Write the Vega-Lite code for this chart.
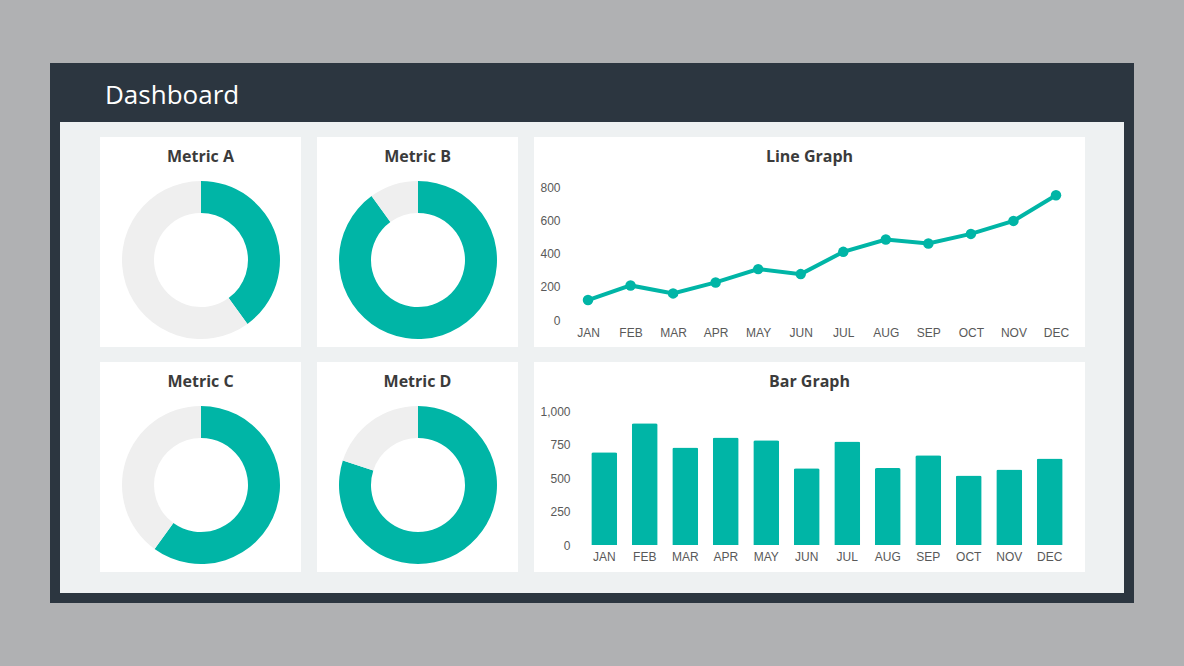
{
  "$schema": "https://vega.github.io/schema/vega-lite/v6.json",
  "background": "#b0b1b3",
  "padding": {"left": 50, "top": 63, "right": 50, "bottom": 63},
  "config": {
    "view": {"stroke": null},
    "concat": {"spacing": 0},
    "axis": {"labelFont": "Liberation Sans", "labelFontSize": 12, "labelColor": "#595959", "grid": false, "domain": false, "ticks": false, "title": null},
    "title": {"font": "Open Sans", "fontSize": 16, "fontWeight": "bold", "color": "#3b3b3b", "anchor": "middle", "frame": "group", "offset": -28, "baseline": "alphabetic"}
  },
  "vconcat": [
    {
      "width": 1084, "height": 59,
      "view": {"fill": "#2c3640", "stroke": null},
      "title": {"text": "Dashboard", "anchor": "start", "dx": 55, "offset": -46, "fontSize": 26, "fontWeight": "normal", "color": "#ffffff"},
      "data": {"values": []},
      "mark": "point",
      "encoding": {}
    },
    {
      "hconcat": [
        {"width": 10, "height": 471, "view": {"fill": "#2c3640", "stroke": null}, "data": {"values": []}, "mark": "point", "encoding": {}},
        {
          "vconcat": [
            {"width": 1064, "height": 15, "view": {"fill": "#eef1f2", "stroke": null}, "data": {"values": []}, "mark": "point", "encoding": {}},
            {
              "hconcat": [
                {"width": 40, "height": 210, "view": {"fill": "#eef1f2", "stroke": null}, "data": {"values": []}, "mark": "point", "encoding": {}},
                {
                  "width": 201, "height": 210,
                  "view": {"fill": "#ffffff", "stroke": null},
                  "title": {"text": "Metric A"},
                  "data": {"values": [{"part": "value", "pct": 40, "ord": 1}, {"part": "rest", "pct": 60, "ord": 2}]},
                  "mark": {"type": "arc", "innerRadius": 47, "outerRadius": 79, "yOffset": 18, "xOffset": 0.5},
                  "encoding": {
                    "theta": {"field": "pct", "type": "quantitative", "stack": true},
                    "order": {"field": "ord", "type": "quantitative"},
                    "color": {"field": "part", "type": "nominal", "scale": {"domain": ["value", "rest"], "range": ["#00b5a6", "#efefef"]}, "legend": null}
                  }
                },
                {"width": 16, "height": 210, "view": {"fill": "#eef1f2", "stroke": null}, "data": {"values": []}, "mark": "point", "encoding": {}},
                {
                  "width": 201, "height": 210,
                  "view": {"fill": "#ffffff", "stroke": null},
                  "title": {"text": "Metric B"},
                  "data": {"values": [{"part": "value", "pct": 90, "ord": 1}, {"part": "rest", "pct": 10, "ord": 2}]},
                  "mark": {"type": "arc", "innerRadius": 47, "outerRadius": 79, "yOffset": 18, "xOffset": 0.5},
                  "encoding": {
                    "theta": {"field": "pct", "type": "quantitative", "stack": true},
                    "order": {"field": "ord", "type": "quantitative"},
                    "color": {"field": "part", "type": "nominal", "scale": {"domain": ["value", "rest"], "range": ["#00b5a6", "#efefef"]}, "legend": null}
                  }
                },
                {"width": 16, "height": 210, "view": {"fill": "#eef1f2", "stroke": null}, "data": {"values": []}, "mark": "point", "encoding": {}},
                {
                  "width": 551, "height": 210,
                  "view": {"fill": "#ffffff", "stroke": null},
                  "title": {"text": "Line Graph"},
                  "data": {"values": [
                    {"month": "JAN", "value": 120},
                    {"month": "FEB", "value": 208},
                    {"month": "MAR", "value": 160},
                    {"month": "APR", "value": 226},
                    {"month": "MAY", "value": 306},
                    {"month": "JUN", "value": 276},
                    {"month": "JUL", "value": 410},
                    {"month": "AUG", "value": 484},
                    {"month": "SEP", "value": 460},
                    {"month": "OCT", "value": 518},
                    {"month": "NOV", "value": 596},
                    {"month": "DEC", "value": 750}
                  ]},
                  "encoding": {
                    "x": {"field": "month", "type": "ordinal", "sort": null, "scale": {"type": "point", "range": [54, 522], "padding": 0}, "axis": {"orient": "bottom", "offset": -20, "labelPadding": 0, "labelAngle": 0}},
                    "y": {"field": "value", "type": "quantitative", "scale": {"domain": [0, 800], "range": [183, 50]}, "axis": {"values": [0, 200, 400, 600, 800], "offset": -30, "labelPadding": 4}}
                  },
                  "layer": [
                    {"mark": {"type": "line", "color": "#00b5a6", "strokeWidth": 4}},
                    {"mark": {"type": "circle", "color": "#00b5a6", "size": 110, "opacity": 1}}
                  ]
                },
                {"width": 39, "height": 210, "view": {"fill": "#eef1f2", "stroke": null}, "data": {"values": []}, "mark": "point", "encoding": {}}
              ]
            },
            {"width": 1064, "height": 15, "view": {"fill": "#eef1f2", "stroke": null}, "data": {"values": []}, "mark": "point", "encoding": {}},
            {
              "hconcat": [
                {"width": 40, "height": 210, "view": {"fill": "#eef1f2", "stroke": null}, "data": {"values": []}, "mark": "point", "encoding": {}},
                {
                  "width": 201, "height": 210,
                  "view": {"fill": "#ffffff", "stroke": null},
                  "title": {"text": "Metric C"},
                  "data": {"values": [{"part": "value", "pct": 60, "ord": 1}, {"part": "rest", "pct": 40, "ord": 2}]},
                  "mark": {"type": "arc", "innerRadius": 47, "outerRadius": 79, "yOffset": 18, "xOffset": 0.5},
                  "encoding": {
                    "theta": {"field": "pct", "type": "quantitative", "stack": true},
                    "order": {"field": "ord", "type": "quantitative"},
                    "color": {"field": "part", "type": "nominal", "scale": {"domain": ["value", "rest"], "range": ["#00b5a6", "#efefef"]}, "legend": null}
                  }
                },
                {"width": 16, "height": 210, "view": {"fill": "#eef1f2", "stroke": null}, "data": {"values": []}, "mark": "point", "encoding": {}},
                {
                  "width": 201, "height": 210,
                  "view": {"fill": "#ffffff", "stroke": null},
                  "title": {"text": "Metric D"},
                  "data": {"values": [{"part": "value", "pct": 80, "ord": 1}, {"part": "rest", "pct": 20, "ord": 2}]},
                  "mark": {"type": "arc", "innerRadius": 47, "outerRadius": 79, "yOffset": 18, "xOffset": 0.5},
                  "encoding": {
                    "theta": {"field": "pct", "type": "quantitative", "stack": true},
                    "order": {"field": "ord", "type": "quantitative"},
                    "color": {"field": "part", "type": "nominal", "scale": {"domain": ["value", "rest"], "range": ["#00b5a6", "#efefef"]}, "legend": null}
                  }
                },
                {"width": 16, "height": 210, "view": {"fill": "#eef1f2", "stroke": null}, "data": {"values": []}, "mark": "point", "encoding": {}},
                {
                  "width": 551, "height": 210,
                  "view": {"fill": "#ffffff", "stroke": null},
                  "title": {"text": "Bar Graph"},
                  "data": {"values": [
                    {"month": "JAN", "value": 693},
                    {"month": "FEB", "value": 908},
                    {"month": "MAR", "value": 728},
                    {"month": "APR", "value": 803},
                    {"month": "MAY", "value": 781},
                    {"month": "JUN", "value": 572},
                    {"month": "JUL", "value": 773},
                    {"month": "AUG", "value": 574},
                    {"month": "SEP", "value": 669},
                    {"month": "OCT", "value": 519},
                    {"month": "NOV", "value": 564},
                    {"month": "DEC", "value": 646}
                  ]},
                  "mark": {"type": "bar", "color": "#00b5a6", "cornerRadiusTopLeft": 2, "cornerRadiusTopRight": 2},
                  "encoding": {
                    "x": {"field": "month", "type": "ordinal", "sort": null, "scale": {"type": "band", "range": [50, 536], "paddingInner": 0.36, "paddingOuter": 0.18}, "axis": {"orient": "bottom", "offset": -21, "labelPadding": 0, "labelAngle": 0}},
                    "y": {"field": "value", "type": "quantitative", "scale": {"domain": [0, 1000], "range": [183, 49]}, "axis": {"values": [0, 250, 500, 750, 1000], "format": ",d", "offset": -40, "labelPadding": 4}}
                  }
                },
                {"width": 39, "height": 210, "view": {"fill": "#eef1f2", "stroke": null}, "data": {"values": []}, "mark": "point", "encoding": {}}
              ]
            },
            {"width": 1064, "height": 21, "view": {"fill": "#eef1f2", "stroke": null}, "data": {"values": []}, "mark": "point", "encoding": {}}
          ]
        },
        {"width": 10, "height": 471, "view": {"fill": "#2c3640", "stroke": null}, "data": {"values": []}, "mark": "point", "encoding": {}}
      ]
    },
    {"width": 1084, "height": 10, "view": {"fill": "#2c3640", "stroke": null}, "data": {"values": []}, "mark": "point", "encoding": {}}
  ]
}
